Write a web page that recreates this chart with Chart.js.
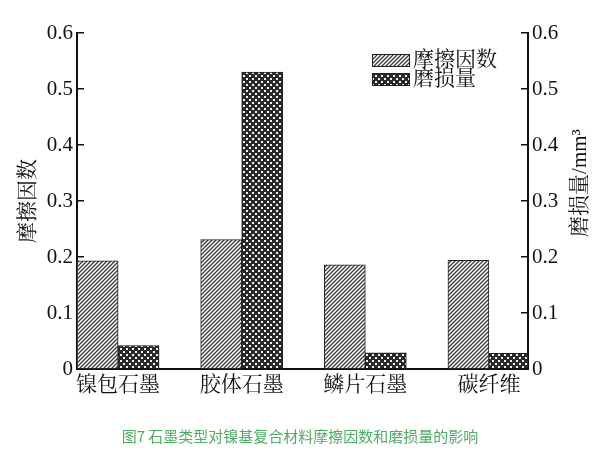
<!DOCTYPE html>
<html><head><meta charset="utf-8">
<script src="https://cdn.jsdelivr.net/npm/chart.js@4/dist/chart.umd.min.js"></script>
<style>html,body{margin:0;padding:0;background:#fff}#wrap{width:600px;height:450px}</style>
</head><body><div id="wrap"><canvas id="c" width="600" height="450"></canvas></div>
<script>
const categories = ['镍包石墨', '胶体石墨', '鳞片石墨', '碳纤维'];
const frictionValues = [0.193, 0.231, 0.186, 0.194];
const wearValues = [0.042, 0.530, 0.029, 0.028];
const seriesNames = ['摩擦因数', '磨损量'];
const yTicks = [0, 0.1, 0.2, 0.3, 0.4, 0.5, 0.6];
const leftTitle = '摩擦因数';
const rightTitle = '磨损量/mm³';
const caption = '图7 石墨类型对镍基复合材料摩擦因数和磨损量的影响';

const SERIF = '"Liberation Serif", "Noto Serif CJK SC", "Noto Sans CJK SC", serif';
const cv = document.getElementById('c');
const ctx = cv.getContext('2d');

function hatchPattern() {
  const s = 4, c = document.createElement('canvas'); c.width = c.height = s;
  const g = c.getContext('2d');
  g.fillStyle = '#fff'; g.fillRect(0, 0, s, s);
  g.strokeStyle = '#3a3a3a'; g.lineWidth = 1.3;
  g.beginPath();
  g.moveTo(0, s); g.lineTo(s, 0);
  g.moveTo(-1, 1); g.lineTo(1, -1);
  g.moveTo(s - 1, s + 1); g.lineTo(s + 1, s - 1);
  g.stroke();
  return ctx.createPattern(c, 'repeat');
}
function checkPattern() {
  const s = 6, c = document.createElement('canvas'); c.width = c.height = s;
  const g = c.getContext('2d');
  g.fillStyle = '#2a2a2a'; g.fillRect(0, 0, s, s);
  g.fillStyle = '#f2f2f2'; g.fillRect(0, 0, 2, 2); g.fillRect(3, 3, 2, 2);
  return ctx.createPattern(c, 'repeat');
}
const patterns = [hatchPattern(), checkPattern()];

const overlay = {
  id: 'overlay',
  afterDraw(chart) {
    const g = chart.ctx;
    g.save();
    const bx = 372, bw = 38, bh = 13;
    const rows = [54, 73];
    g.font = '21px ' + SERIF; g.textBaseline = 'middle'; g.textAlign = 'left';
    rows.forEach((y, i) => {
      g.fillStyle = patterns[i]; g.fillRect(bx, y, bw, bh);
      g.strokeStyle = '#222'; g.lineWidth = 1; g.strokeRect(bx + 0.5, y + 0.5, bw - 1, bh - 1);
      g.fillStyle = '#111'; g.fillText(seriesNames[i], 413, y + bh / 2);
    });
    g.translate(580, 183); g.rotate(-Math.PI / 2);
    g.textAlign = 'center'; g.font = '21px ' + SERIF; g.fillStyle = '#111';
    g.fillText(rightTitle, 0, 0);
    g.restore();
  }
};

const xPos = categories.map((_, i) => i);
new Chart(cv, {
  type: 'bar',
  data: {
    datasets: [
      { label: seriesNames[0], data: frictionValues.map((v, i) => ({ x: xPos[i], y: v })), yAxisID: 'y',
        backgroundColor: patterns[0], borderColor: '#222', borderWidth: 1, barThickness: 41 },
      { label: seriesNames[1], data: wearValues.map((v, i) => ({ x: xPos[i], y: v })), yAxisID: 'y2',
        backgroundColor: patterns[1], borderColor: '#222', borderWidth: 1, barThickness: 41 }
    ]
  },
  options: {
    responsive: false, animation: false, devicePixelRatio: 1,
    layout: { padding: { top: 33, left: 0, right: 0, bottom: 0 } },
    plugins: {
      legend: { display: false }, tooltip: { enabled: false },
      title: { display: true, text: caption, position: 'bottom', color: '#4cae63',
        font: { family: '"Noto Sans CJK SC", sans-serif', size: 15, weight: 'normal' }, padding: { top: 0, bottom: 5 } }
    },
    scales: {
      x: {
        type: 'linear', position: 'bottom', min: -0.3324, max: 3.3162, offset: false,
        afterBuildTicks: s => { s.ticks = xPos.map(v => ({ value: v })); },
        afterFit: s => { s.height = 58; },
        grid: { display: false, drawTicks: false, offset: false },
        border: { display: true, color: '#111', width: 2 },
        ticks: { callback: v => categories[v], color: '#111', padding: 4, maxRotation: 0, autoSkip: false,
          font: { family: SERIF, size: 21 } }
      },
      y: {
        position: 'left', min: 0, max: 0.6,
        afterBuildTicks: s => { s.ticks = yTicks.map(v => ({ value: v })); },
        afterFit: s => { s.width = 77; },
        grid: { drawOnChartArea: false, drawTicks: true, tickLength: -7, color: '#111', lineWidth: 1.5 },
        border: { display: true, color: '#111', width: 2 },
        ticks: { color: '#111', padding: 11, font: { family: SERIF, size: 21 } },
        title: { display: true, text: leftTitle, color: '#111', padding: { top: 16, bottom: 0 },
          font: { family: SERIF, size: 21 } }
      },
      y2: {
        position: 'right', min: 0, max: 0.6,
        afterBuildTicks: s => { s.ticks = yTicks.map(v => ({ value: v })); },
        afterFit: s => { s.width = 72; },
        grid: { drawOnChartArea: false, drawTicks: true, tickLength: -7, color: '#111', lineWidth: 1.5 },
        border: { display: true, color: '#111', width: 2 },
        ticks: { color: '#111', padding: 11, font: { family: SERIF, size: 21 } }
      }
    }
  },
  plugins: [overlay]
});
</script></body></html>
